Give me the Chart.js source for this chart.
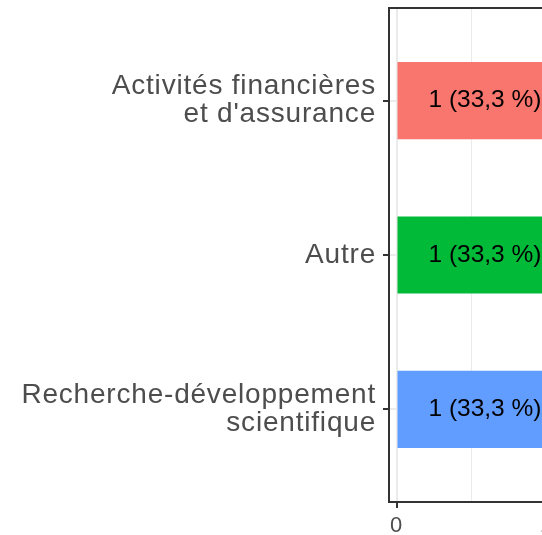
<!DOCTYPE html>
<html>
<head>
<meta charset="utf-8">
<script src="https://cdn.jsdelivr.net/npm/chart.js@4/dist/chart.umd.min.js"></script>
<style>
  html, body { margin:0; padding:0; background:#fff; overflow:hidden; width:542px; height:535px; }
  #wrap { width:566px; height:535px; position:relative; }
</style>
</head>
<body>
<div id="wrap"><canvas id="graf"></canvas></div>
<script>
// data
const categorias = [["Activités financières", "et d'assurance"], ["Autre"], ["Recherche-développement", "scientifique"]];
const valores = [1, 1, 1];
const cores = ["#F8766D", "#00BA38", "#619CFF"];
const ticksX = [0, 0.5, 1];
const posicaoRotulo = 0.213;

const total = valores.reduce((a, b) => a + b, 0);
const rotulos = valores.map(v => `${v} (${(100 * v / total).toFixed(1).replace(".", ",")} %)`);
const FONTE = "'Liberation Sans', Arial, sans-serif";

// R draws its text a little wider than the browser does
const espacamento = {
  id: "espacamento",
  beforeLayout(chart){ chart.ctx.letterSpacing = "0.8px"; },
  beforeDraw(chart){ chart.ctx.letterSpacing = "0.8px"; }
};

const moldura = {
  id: "moldura",
  afterDraw(chart){
    const { ctx, chartArea: a } = chart;
    ctx.save();
    ctx.strokeStyle = "#333333";
    ctx.lineWidth = 2;
    ctx.strokeRect(a.left, a.top, a.right - a.left, a.bottom - a.top);
    ctx.restore();
  }
};

const rotulosBarras = {
  id: "rotulosBarras",
  afterDatasetsDraw(chart){
    const { ctx, scales } = chart;
    ctx.save();
    ctx.letterSpacing = "0px";
    ctx.font = `24.5px ${FONTE}`;
    ctx.fillStyle = "#000";
    ctx.textAlign = "left";
    ctx.textBaseline = "middle";
    valores.forEach((v, i) => {
      ctx.fillText(rotulos[i], scales.x.getPixelForValue(posicaoRotulo), scales.y.getPixelForValue(i + 1));
    });
    ctx.restore();
  }
};

const ehMaior = (v) => Number.isInteger(v);

new Chart(document.getElementById("graf"), {
  type: "bar",
  data: {
    datasets: [{
      data: valores.map((v, i) => ({ x: v, y: i + 1 })),
      backgroundColor: cores,
      barPercentage: 0.5,
      categoryPercentage: 1
    }]
  },
  options: {
    indexAxis: "y",
    responsive: true,
    maintainAspectRatio: false,
    animation: false,
    layout: { padding: { top: 8, right: 12, left: 0, bottom: 0 } },
    plugins: { legend: { display: false }, tooltip: { enabled: false } },
    scales: {
      y: {
        type: "linear",
        min: 0.4, max: 3.6, reverse: true, offset: false,
        afterBuildTicks: (s) => { s.ticks = categorias.map((c, i) => ({ value: i + 1 })); },
        afterFit: (s) => { s.width = 389; s.paddingTop = 0; s.paddingBottom = 0; },
        border: { display: false },
        grid: { offset: false, color: "#EBEBEB", lineWidth: 2, tickColor: "#333333", tickLength: 6, tickWidth: 2 },
        ticks: {
          color: "#4D4D4D", padding: 7,
          font: { family: FONTE, size: 28, lineHeight: 1.0 },
          callback: (v) => categorias[v - 1]
        }
      },
      x: {
        type: "linear",
        min: -0.05, max: 1.05,
        afterBuildTicks: (s) => { s.ticks = ticksX.map(v => ({ value: v })); },
        afterFit: (s) => { s.height = 33; s.paddingLeft = 0; s.paddingRight = 0; },
        border: { display: false },
        grid: {
          color: "#EBEBEB",
          lineWidth: (c) => c.tick && ehMaior(c.tick.value) ? 2 : 1,
          tickColor: (c) => c.tick && ehMaior(c.tick.value) ? "#333333" : "rgba(0,0,0,0)",
          tickLength: 6, tickWidth: 2
        },
        ticks: {
          color: "#4D4D4D", padding: 5, maxRotation: 0, autoSkip: false,
          font: { family: FONTE, size: 22 },
          callback: (v) => ehMaior(v) ? String(v) : ""
        }
      }
    }
  },
  plugins: [espacamento, rotulosBarras, moldura]
});
</script>
</body>
</html>
